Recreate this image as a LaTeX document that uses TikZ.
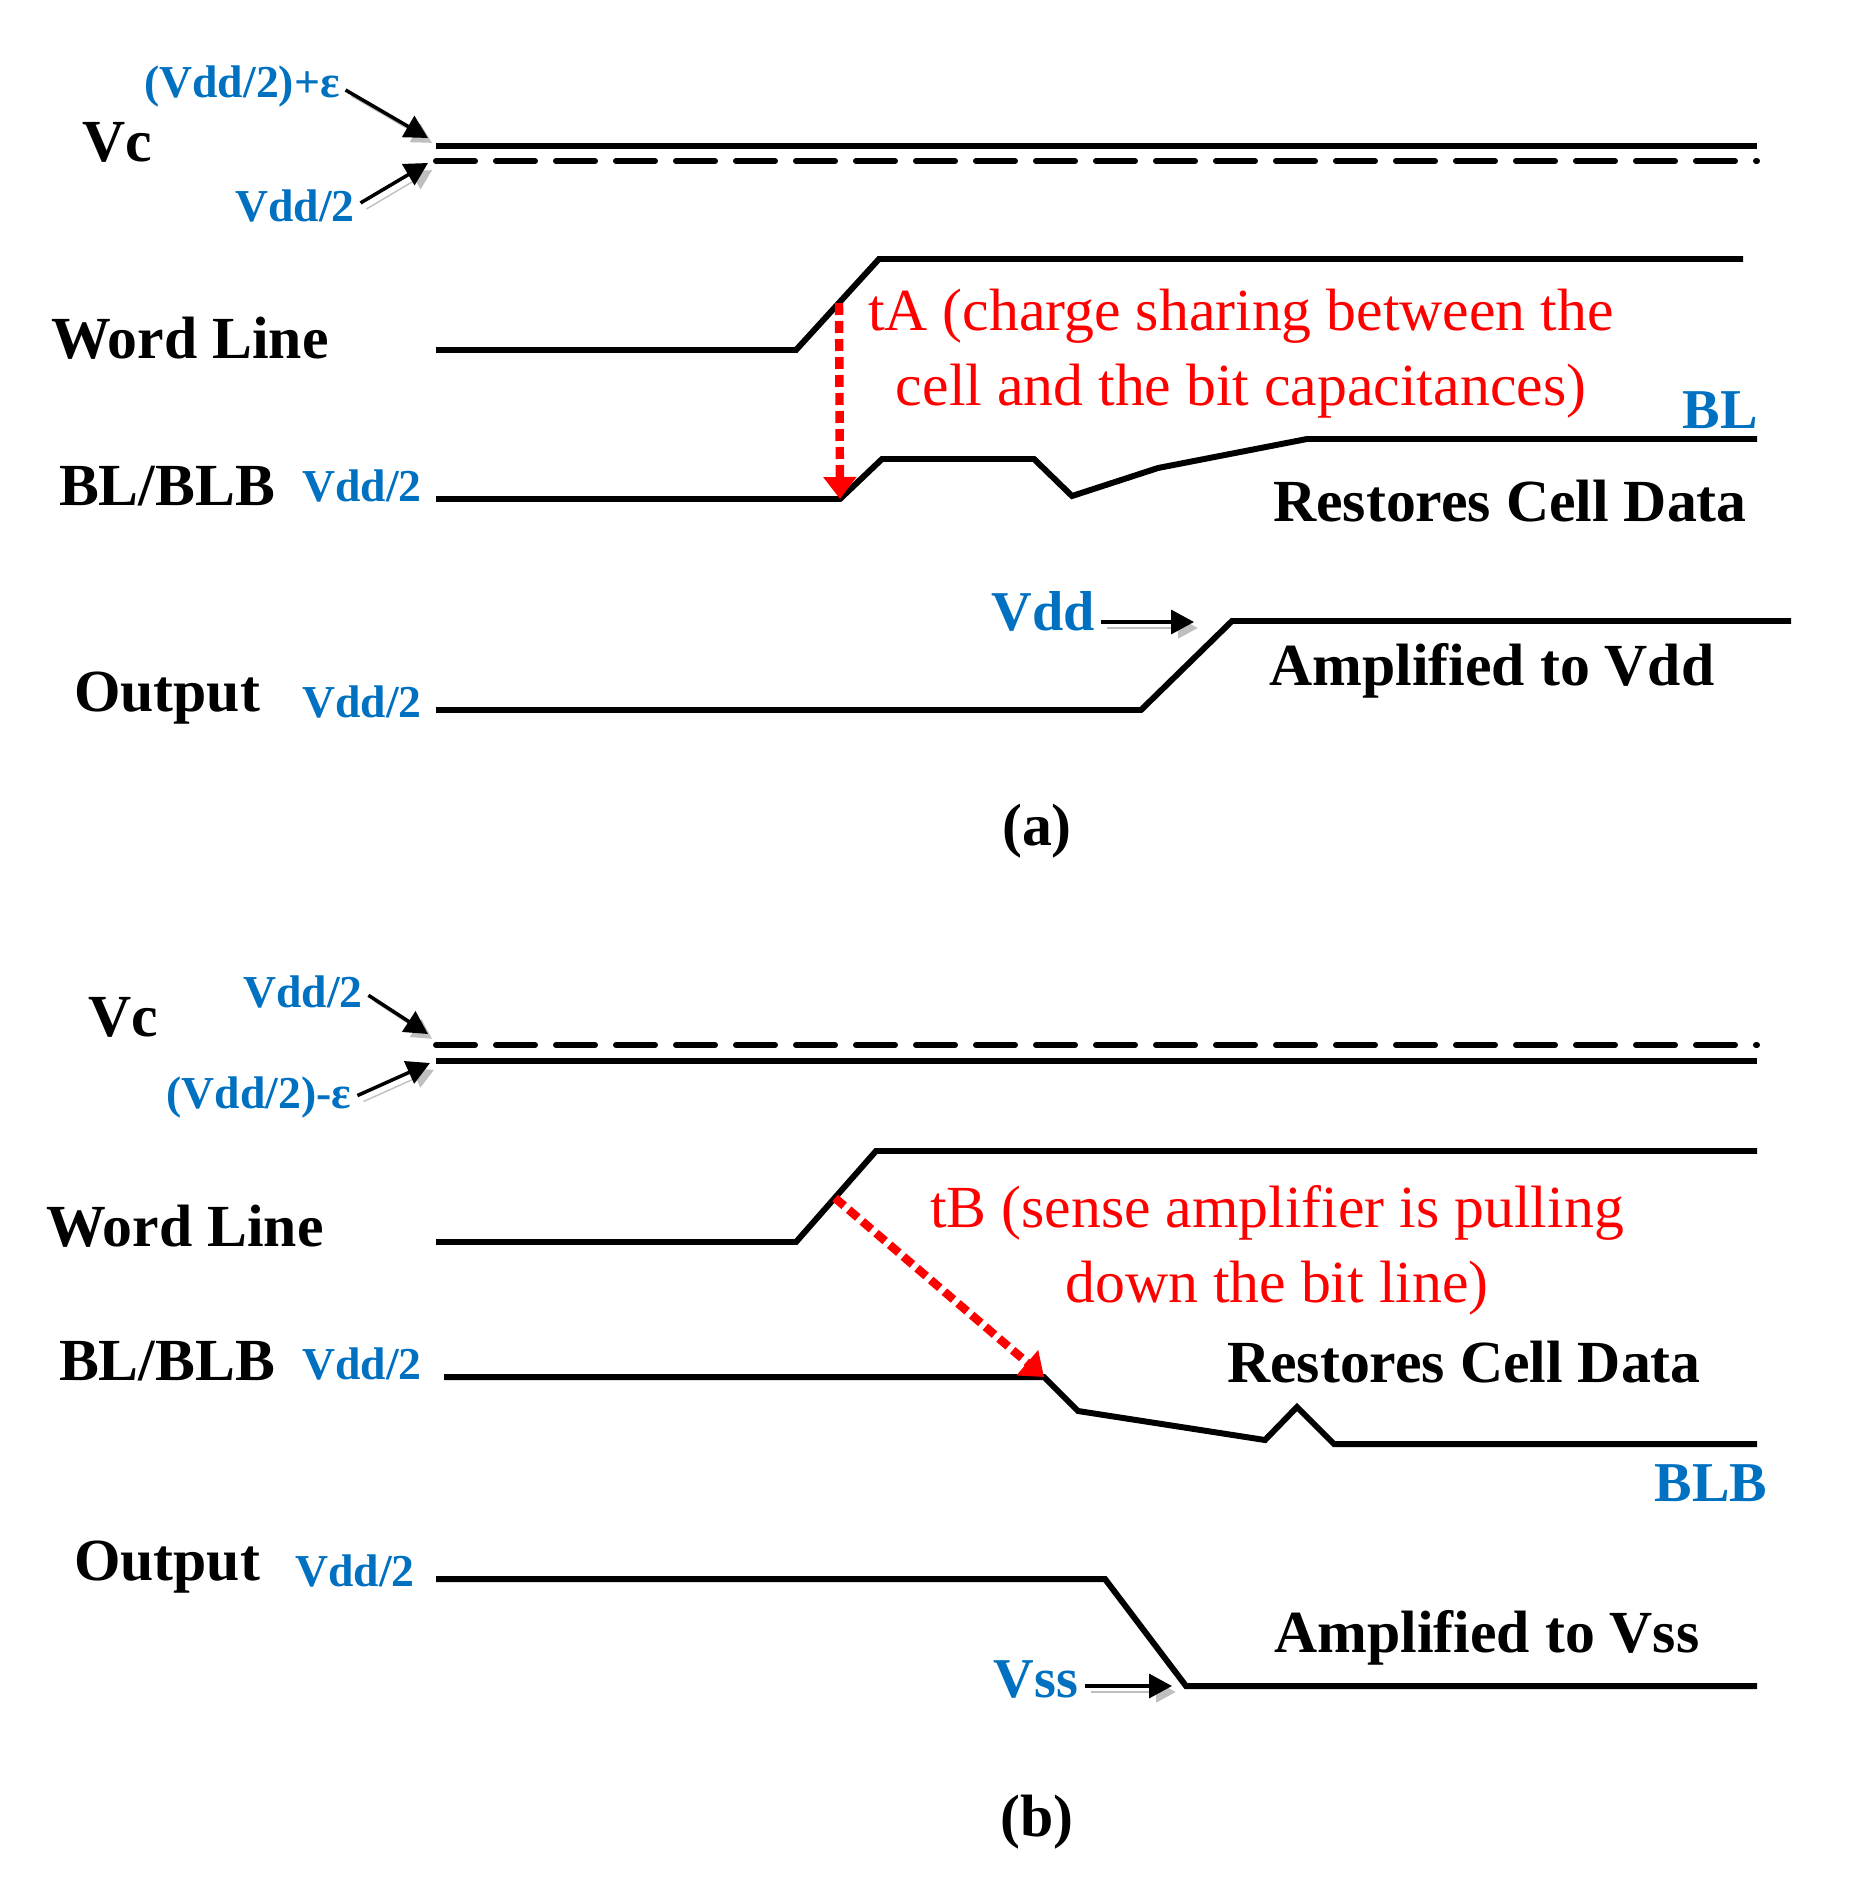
\documentclass[tikz,border=0pt]{standalone}
\usepackage{fontspec}
\setmainfont{Liberation Serif}
\usetikzlibrary{arrows.meta}

\definecolor{volt}{RGB}{0,112,192}

\begin{document}
\begin{tikzpicture}[x=0.1mm, y=-0.1mm,
  sig/.style={line width=1.7pt},
  refl/.style={line width=1.7pt, dash pattern=on 3.9mm off 2.1mm, line cap=round},
  lab/.style={font=\fontsize{17}{20}\selectfont\bfseries, inner sep=0pt},
  vlab/.style={font=\fontsize{13}{15}\selectfont\bfseries, text=volt, inner sep=0pt},
  blab/.style={font=\fontsize{16}{19}\selectfont\bfseries, text=volt, inner sep=0pt},
  note/.style={font=\fontsize{17}{21.3}\selectfont, text=red, align=center, inner sep=0pt},
  ptr/.style={-{Triangle[length=2.3mm,width=2.4mm]}, line width=1pt, shorten <=0.6mm,
              preaction={draw=black!25, transform canvas={shift={(0.6mm,-0.6mm)}}}},
  tim/.style={-{Triangle[length=2.2mm,width=3.2mm]}, red, line width=2.4pt,
              dash pattern=on 1.2mm off 0.6mm}]

\useasboundingbox (0,0) rectangle (1848,1898);

% Panel (a)
\node[lab] (vcA) at (117,142) {Vc};
\draw[sig] (436,146) -- (1757,146);
\draw[refl] (436,161) -- (1757,161);
\node[vlab] (hiA) at (242,87) {(Vdd/2)+ε};
\node[vlab] (midA) at (295,206) {Vdd/2};
\coordinate (hiAt) at (428,138);
\coordinate (midAt) at (428,163);
\draw[ptr] (hiA.east) -- (hiAt);
\draw[ptr] (midA.east) -- (midAt);

\node[lab] (wlA) at (190,338) {Word Line};
\draw[sig] (436,350) -- (796,350) -- (879,259) -- (1743,259);
\coordinate (wlAm) at (839,303);
\node[note] (tA) at (1241,354) {tA (charge sharing between the\\cell and the bit capacitances)};

\node[lab] (blA) at (167,486) {BL/BLB};
\node[vlab] (blvA) at (362,486) {Vdd/2};
\draw[sig] (436,499) -- (840,499) coordinate (blAk) -- (882,459) -- (1034,459)
  -- (1072,496) -- (1158,468) -- (1307,439) -- (1757,439);
\draw[tim] (wlAm) -- (blAk);
\node[blab] (blnA) at (1720,410) {BL};
\node[lab] (rsA) at (1510,501) {Restores Cell Data};

\node[lab] (outA) at (167,698) {Output};
\node[vlab] (outvA) at (362,702) {Vdd/2};
\draw[sig] (436,710) -- (1141,710) -- (1232,621) -- (1791,621);
\node[blab] (vddA) at (1043,611) {Vdd};
\coordinate (vddAt) at (1194,622);
\draw[ptr] (vddA.east |- vddAt) -- (vddAt);
\node[lab] (ampA) at (1492,671) {Amplified to Vdd};
\node[lab] (capA) at (1037,831) {(a)};

% Panel (b)
\node[lab] (vcB) at (123,1017) {Vc};
\draw[refl] (436,1045) -- (1757,1045);
\draw[sig] (436,1061) -- (1757,1061);
\node[vlab] (midB) at (303,992) {Vdd/2};
\node[vlab] (loB) at (259,1098) {(Vdd/2)-ε};
\coordinate (midBt) at (428,1034);
\coordinate (loBt) at (430,1063);
\draw[ptr] (midB.east) -- (midBt);
\draw[ptr] (loB.east) -- (loBt);

\node[lab] (wlB) at (185,1226) {Word Line};
\draw[sig] (436,1242) -- (796,1242) -- (876,1151) -- (1757,1151);
\coordinate (wlBm) at (835,1198);
\node[note] (tB) at (1277,1250) {tB (sense amplifier is pulling\\down the bit line)};

\node[lab] (blB) at (167,1361) {BL/BLB};
\node[vlab] (blvB) at (362,1364) {Vdd/2};
\draw[sig] (444,1377) -- (1044,1377) coordinate (blBk) -- (1078,1411) -- (1265,1440)
  -- (1297,1407) -- (1334,1444) -- (1757,1444);
\draw[tim] (wlBm) -- (blBk);
\node[lab] (rsB) at (1464,1362) {Restores Cell Data};
\node[blab] (blbnB) at (1711,1483) {BLB};

\node[lab] (outB) at (167,1567) {Output};
\node[vlab] (outvB) at (355,1571) {Vdd/2};
\draw[sig] (436,1579) -- (1105,1579) -- (1186,1686) -- (1757,1686);
\node[lab] (ampB) at (1487,1638) {Amplified to Vss};
\node[blab] (vssB) at (1036,1679) {Vss};
\coordinate (vssBt) at (1172,1686);
\draw[ptr] (vssB.east |- vssBt) -- (vssBt);
\node[lab] (capB) at (1037,1822) {(b)};
\end{tikzpicture}
\end{document}
